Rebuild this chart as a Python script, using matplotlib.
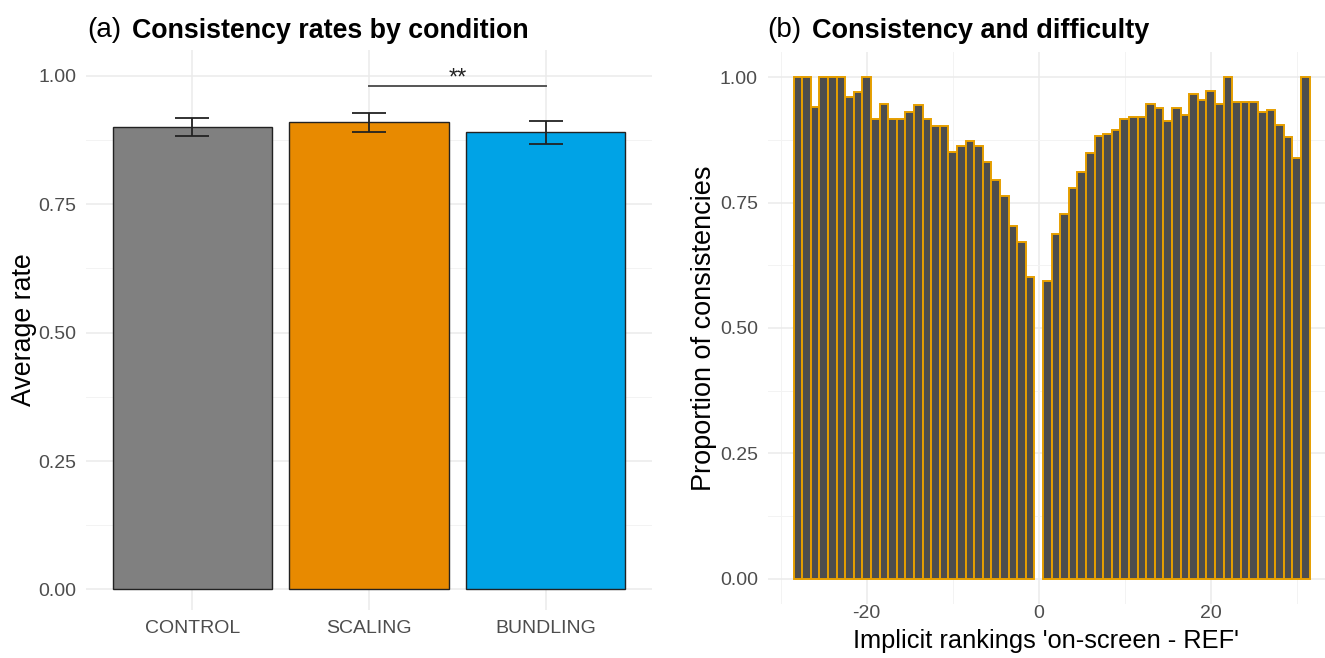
import matplotlib
matplotlib.use("Agg")
import matplotlib.pyplot as plt
import numpy as np

plt.rcParams["font.family"] = ["Liberation Sans", "DejaVu Sans"]
plt.rcParams["axes.unicode_minus"] = False

# panel (a)
conditions = ["CONTROL", "SCALING", "BUNDLING"]
rates = [0.901, 0.909, 0.891]
err_low = [0.883, 0.891, 0.867]
err_high = [0.918, 0.927, 0.912]
cond_colors = ["#808080", "#E88A00", "#00A3E6"]
sig_pair = ("SCALING", "BUNDLING")
sig_level = 0.979
sig_label = "**"

# panel (b)
diffs = list(range(-28, 0)) + list(range(1, 32))
consistency = [
    1.00, 1.00, 0.940, 1.00, 1.00, 1.00, 0.960, 0.971, 1.00, 0.916,
    0.946, 0.916, 0.916, 0.930, 0.945, 0.916, 0.903, 0.903, 0.850, 0.863,
    0.873, 0.863, 0.830, 0.795, 0.763, 0.704, 0.671, 0.602,
    0.594, 0.687, 0.727, 0.778, 0.810, 0.848, 0.882, 0.886, 0.894, 0.916,
    0.920, 0.921, 0.946, 0.938, 0.913, 0.938, 0.924, 0.966, 0.954, 0.973,
    0.946, 1.00, 0.951, 0.951, 0.951, 0.930, 0.934, 0.904, 0.881, 0.839,
    1.00,
]


def style_axes(ax):
    for s in ax.spines.values():
        s.set_visible(False)
    ax.set_facecolor("white")
    ax.tick_params(length=0, colors="#4d4d4d", labelsize=14, pad=7)
    ax.set_axisbelow(True)


W, H = 1325, 658
fig = plt.figure(figsize=(W / 100, H / 100), dpi=100)

# ---- (a)
ax1 = fig.add_axes([86 / W, 1 - 610 / H, 566 / W, 560 / H])
style_axes(ax1)
x = np.arange(len(conditions))
ax1.bar(x, rates, width=0.9, color=cond_colors, edgecolor="#222222", linewidth=1.0, zorder=2)
rates_a = np.array(rates)
yerr = [rates_a - np.array(err_low), np.array(err_high) - rates_a]
ax1.errorbar(x, rates, yerr=yerr, fmt="none", ecolor="#222222", elinewidth=1.3,
             capsize=12.5, capthick=1.3, zorder=3)
i1, i2 = conditions.index(sig_pair[0]), conditions.index(sig_pair[1])
ax1.plot([i1, i2], [sig_level, sig_level], color="#555555", lw=1.4, zorder=3)
ax1.text((i1 + i2) / 2, sig_level - 0.006, sig_label, ha="center", va="bottom",
         fontsize=17, color="#222222")
ax1.set_xlim(-0.6, 2.6)
ax1.set_ylim(-0.04, 1.05)
ax1.set_xticks(x)
ax1.set_xticklabels(conditions)
ax1.set_yticks([0, 0.25, 0.5, 0.75, 1.0])
ax1.set_yticklabels(["0.00", "0.25", "0.50", "0.75", "1.00"])
ax1.set_yticks([0.125, 0.375, 0.625, 0.875], minor=True)
ax1.tick_params(which="minor", length=0)
ax1.grid(True, which="major", color="#EBEBEB", lw=1.1, zorder=0)
ax1.grid(True, which="minor", axis="y", color="#F3F3F3", lw=0.7, zorder=0)
ax1.set_ylabel("Average rate", fontsize=19.3, color="black", labelpad=1)

# ---- (b)
ax2 = fig.add_axes([767.7 / W, 1 - 604 / H, 557.3 / W, 552 / H])
style_axes(ax2)
ax2.bar(diffs, consistency, width=1.0, color="#4D4D4D", edgecolor="#E69F00",
        linewidth=1.4, zorder=2)
ax2.set_xlim(-31.5, 33.3)
ax2.set_ylim(-0.05, 1.05)
ax2.set_xticks([-20, 0, 20])
ax2.set_xticks([-30, -10, 10, 30], minor=True)
ax2.tick_params(axis="x", pad=0.5)
ax2.set_yticks([0, 0.25, 0.5, 0.75, 1.0])
ax2.set_yticklabels(["0.00", "0.25", "0.50", "0.75", "1.00"])
ax2.set_yticks([0.125, 0.375, 0.625, 0.875], minor=True)
ax2.tick_params(which="minor", length=0)
ax2.grid(True, which="major", color="#EBEBEB", lw=1.1, zorder=0)
ax2.grid(True, which="minor", color="#F3F3F3", lw=0.7, zorder=0)
ax2.set_ylabel("Proportion of consistencies", fontsize=19.5, color="black", labelpad=2)
ax2.set_xlabel("Implicit rankings 'on-screen - REF'", fontsize=18.3, color="black", labelpad=5)

# titles
fig.text(87 / W, 1 - 30 / H, "(a)", fontsize=20, va="center", ha="left")
fig.text(132 / W, 1 - 31 / H, "Consistency rates by condition", fontsize=19.3,
         fontweight="bold", va="center", ha="left")
fig.text(767 / W, 1 - 30 / H, "(b)", fontsize=20, va="center", ha="left")
fig.text(812 / W, 1 - 31 / H, "Consistency and difficulty", fontsize=19.5,
         fontweight="bold", va="center", ha="left")

fig.savefig("out.png", dpi=100)
plt.close(fig)
